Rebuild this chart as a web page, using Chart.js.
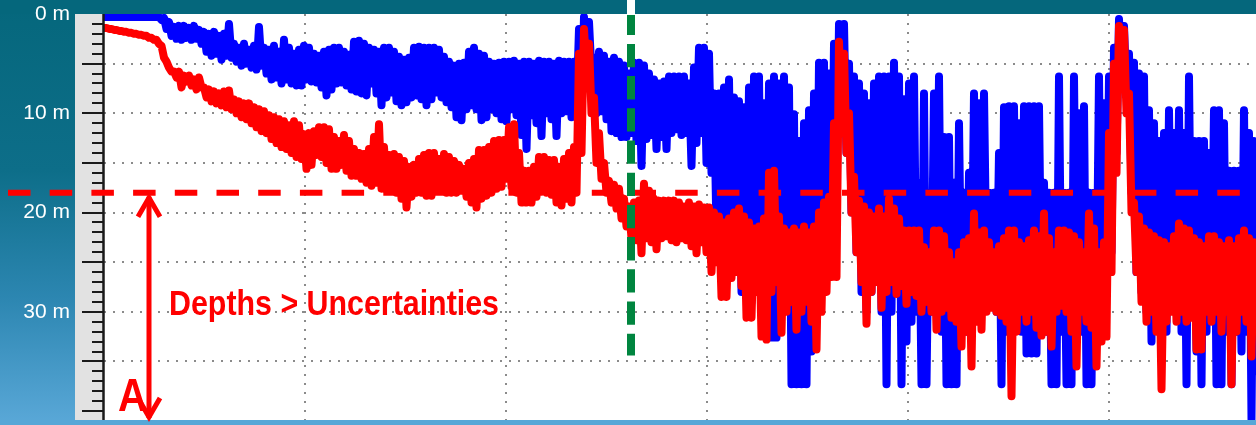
<!doctype html>
<html lang="en">
<head>
  <meta charset="utf-8">
  <title>Depth profile</title>
  <script src="https://cdn.jsdelivr.net/npm/chart.js"></script>
  <style>
    html, body { margin: 0; padding: 0; background: #05677c; }
    #wrap { position: relative; width: 1256px; height: 425px; }
  </style>
</head>
<body>
  <div id="wrap"><canvas id="depthChart"></canvas></div>

  <script>
    // per sample along the track: shallowest and deepest reading (m) of each trace
    var blueTop = [
      0.3,0.3,0.3,0.3,0.3,0.3,0.3,0.3,0.3,0.3,
      0.3,0.3,0.4,0.8,1.3,1.2,1.2,1.4,1.2,1.6,
      1.8,2.0,1.8,2.2,2.0,1.0,3.0,3.4,3.0,3.6,
      3.2,1.3,3.4,3.6,3.2,3.8,2.6,3.4,4.0,3.6,
      3.2,3.4,4.0,4.2,3.8,3.6,3.4,3.4,3.8,4.1,
      2.8,2.7,3.0,3.4,3.6,3.8,3.4,3.4,3.8,4.3,
      4.6,4.4,3.4,3.3,3.4,3.4,3.4,3.6,4.3,4.8,
      5.2,5.0,4.9,3.8,3.4,4.0,4.2,4.8,5.0,4.9,
      4.8,4.8,4.7,5.0,4.8,4.8,5.0,4.7,4.8,4.8,
      5.0,4.7,4.8,4.8,4.8,1.5,0.3,0.8,4.4,3.8,
      4.2,4.8,4.4,4.8,5.2,6.0,4.9,4.9,5.2,6.0,
      6.6,7.0,6.8,6.3,6.3,6.3,6.3,7.0,5.4,3.4,
      3.4,4.0,8.0,8.0,7.4,6.6,8.4,8.8,9.4,7.4,
      6.3,6.3,9.0,7.0,6.3,7.0,6.3,7.4,10.1,12.8,
      11.0,9.7,8.0,4.9,4.9,6.0,3.0,1.0,1.0,5.0,
      6.3,7.0,8.0,9.0,7.0,6.3,6.3,6.3,4.9,6.3,
      8.6,7.0,6.3,17.0,8.0,18.0,8.0,6.3,12.4,12.4,
      17.0,11.0,18.0,16.0,8.0,9.0,8.0,18.0,18.0,14.0,
      9.4,9.3,9.3,11.0,9.3,9.3,9.3,9.3,17.0,18.0,
      18.0,6.3,18.0,18.0,6.3,10.0,9.3,18.0,18.0,6.3,
      9.0,6.3,3.4,0.5,1.2,4.0,4.9,6.0,6.3,9.7,
      11.0,12.8,12.0,9.7,12.0,9.7,12.0,6.3,12.8,12.8,
      12.8,14.0,9.7,9.7,11.0,15.8,15.8,15.8,9.7,12.0,12.8
    ];
    var blueBottom = [
      0.3,0.3,0.3,0.3,0.3,0.3,0.3,0.3,0.3,0.3,
      0.3,0.6,1.5,2.2,2.5,2.6,2.4,2.6,2.5,3.0,
      3.8,4.2,4.0,4.6,4.2,4.4,4.8,5.2,5.0,5.4,
      5.6,5.2,6.0,6.6,6.4,7.0,6.6,7.0,7.2,7.2,
      6.6,6.8,6.9,7.4,8.2,7.6,7.0,6.9,7.2,7.6,
      7.8,8.0,8.2,7.0,8.0,9.2,8.4,7.9,8.8,9.2,
      8.9,8.4,8.2,8.6,9.2,8.6,7.9,8.4,8.9,9.4,
      10.4,10.7,9.6,9.2,9.6,10.7,10.4,9.6,10.0,10.6,
      10.8,9.6,10.2,12.2,13.6,10.2,11.0,12.3,10.0,10.6,
      12.3,10.0,9.8,10.4,9.6,9.8,5.0,6.0,10.0,9.8,
      10.6,11.8,12.0,12.4,12.4,12.0,12.8,15.3,12.6,12.2,
      13.6,12.4,13.6,12.0,11.6,12.2,12.0,15.3,13.0,12.0,
      15.0,16.0,22.0,24.0,26.0,24.0,26.0,28.0,26.0,29.0,
      26.0,28.0,30.0,32.6,32.6,30.0,28.0,37.3,37.3,37.3,
      37.3,34.0,30.0,28.0,26.0,24.0,20.0,12.0,14.0,20.0,
      24.0,28.0,30.0,28.0,26.0,30.0,37.3,30.0,28.0,37.3,
      33.0,31.0,30.0,37.3,37.3,30.0,30.0,32.0,37.3,37.3,
      37.3,30.0,32.0,30.0,28.0,28.0,26.0,28.0,30.0,37.3,
      32.0,30.0,30.0,32.0,34.2,34.2,34.2,30.0,32.0,37.3,
      37.3,32.0,37.3,37.3,30.0,32.0,37.3,37.3,30.0,30.0,
      28.0,24.0,14.0,6.0,8.0,18.0,26.0,28.0,30.0,33.0,
      30.0,30.0,32.0,28.0,30.0,32.0,37.3,30.0,34.0,37.3,
      32.0,30.0,37.3,37.3,32.0,37.3,32.0,34.0,32.0,40.8,36.0
    ];
    var redTop = [
      1.4,1.5,1.6,1.7,1.8,1.9,2.0,2.1,2.2,2.4,
      2.6,3.0,4.4,5.4,5.8,5.8,6.2,6.2,6.6,6.4,
      7.4,7.6,7.8,8.0,7.8,7.7,8.6,8.8,9.0,9.0,
      9.4,9.6,9.8,10.2,10.4,10.6,10.8,11.2,10.8,11.2,
      12.1,12.0,11.8,11.4,11.4,11.6,12.4,12.8,12.2,12.8,
      13.6,14.0,14.1,13.6,12.4,11.1,13.4,14.2,14.1,14.4,
      14.8,15.4,15.2,14.6,14.2,14.0,14.0,14.6,14.1,14.4,
      14.8,15.2,15.6,15.0,14.6,13.7,13.7,13.4,12.8,12.7,
      12.7,11.4,11.1,14.0,15.8,15.8,15.4,14.4,14.4,14.7,
      14.7,15.4,14.6,14.0,13.4,4.0,1.5,3.0,8.4,12.0,
      15.0,16.8,17.2,17.6,18.6,19.4,19.0,18.8,17.1,17.8,
      18.6,18.8,18.8,18.8,18.8,19.0,19.4,19.0,19.4,19.2,
      19.5,19.5,20.0,20.4,21.0,20.6,20.0,19.6,20.4,21.0,
      21.6,21.4,20.6,16.0,15.8,20.4,21.6,22.0,21.6,22.0,
      21.4,22.0,21.4,20.0,19.0,18.4,11.0,2.8,4.0,10.0,
      16.4,18.8,19.4,20.0,20.4,19.6,20.4,18.6,19.6,20.6,
      21.8,21.8,21.8,21.8,23.5,24.0,21.8,21.8,22.4,24.0,
      25.0,24.0,23.0,22.6,20.1,22.0,21.8,23.0,24.0,23.4,
      22.6,21.8,21.8,23.0,23.4,22.8,21.8,22.4,20.1,22.6,
      24.0,21.8,21.8,22.0,22.4,23.0,24.0,20.1,21.6,24.0,
      23.0,12.0,5.0,1.2,1.6,8.0,19.0,20.4,21.6,22.0,
      22.4,22.8,23.0,23.4,22.4,21.1,21.6,21.8,22.6,23.0,
      23.4,22.4,22.4,23.0,23.4,22.8,23.4,22.6,21.8,22.6,23.0
    ];
    var redBottom = [
      1.4,1.5,1.6,1.7,1.8,1.9,2.0,2.1,2.2,2.4,
      2.6,3.2,4.8,5.8,6.4,7.4,6.8,7.2,7.6,7.4,
      8.4,8.8,9.0,9.2,9.4,9.6,10.0,10.4,10.6,11.0,
      11.4,11.8,12.0,12.6,13.0,13.4,13.6,14.0,14.4,14.6,
      15.6,15.2,14.2,14.4,15.0,15.6,15.6,15.2,15.8,16.3,
      16.3,16.6,17.0,17.3,17.0,17.6,17.7,17.7,18.0,18.6,
      19.5,18.4,18.0,18.0,18.3,18.3,17.6,17.8,18.0,18.0,
      18.0,17.8,18.4,19.0,19.5,18.6,18.3,18.0,17.6,17.4,
      16.6,17.4,18.0,19.0,19.0,19.0,18.4,17.9,18.0,18.2,
      19.0,19.3,18.6,19.0,18.0,14.0,6.0,10.0,15.0,16.6,
      18.0,19.0,19.6,20.6,21.4,22.6,22.8,24.1,22.6,23.0,
      23.7,22.6,22.4,22.8,23.0,22.6,22.8,23.4,24.1,23.0,
      24.0,26.0,25.0,28.5,28.5,26.6,26.0,27.4,30.6,30.6,
      28.0,32.5,32.8,28.0,27.0,32.1,30.0,29.0,31.8,30.0,
      29.0,31.0,33.8,30.0,28.0,26.5,26.5,12.0,14.0,20.0,
      24.0,27.0,31.2,28.0,27.0,29.6,28.0,27.0,28.2,27.4,
      29.2,28.0,28.4,30.0,29.0,30.0,31.8,30.0,29.6,30.6,
      31.0,33.5,32.0,35.5,31.0,31.8,30.0,29.6,30.0,30.4,
      31.0,38.5,32.0,30.0,31.0,30.0,31.6,32.4,32.0,33.5,
      30.0,29.4,30.0,32.0,35.5,30.0,31.0,31.6,35.5,33.0,
      32.5,26.0,16.0,6.0,10.0,20.0,26.0,29.0,31.0,30.0,
      32.0,37.8,31.0,30.0,31.0,30.0,31.0,30.6,33.8,33.8,
      30.0,31.0,30.0,32.0,30.0,37.3,32.0,30.0,31.0,34.5,31.0
    ];

    var thresholdDepth = 18.0;   // dashed red line
    var markerSample = 105.4;    // dashed green line
    var markerEndDepth = 34.4;
    var arrowSample = 9;
    var noteText = 'Depths > Uncertainties';
    var cornerText = 'A';

    // each sample gives two points: its shallow reading, then its deep one
    function envelope(top, bottom) {
      var pts = [];
      for (var i = 0; i < top.length; i++) {
        pts.push({ x: i, y: top[i] });
        pts.push({ x: i + 0.5, y: bottom[i] });
      }
      return pts;
    }

    var dotted = 'rgba(110,110,110,0.8)';

    var decor = {
      id: 'decor',
      beforeDraw: function (chart) {
        var ctx = chart.ctx, a = chart.chartArea, W = chart.width, H = chart.height;
        ctx.save();
        var g = ctx.createLinearGradient(0, 0, 0, H);
        g.addColorStop(0, '#05677c');
        g.addColorStop(0.4, '#0d6e89');
        g.addColorStop(0.7, '#2c86b1');
        g.addColorStop(1, '#5aa8d8');
        ctx.fillStyle = g;
        ctx.fillRect(0, 0, W, H);
        ctx.fillStyle = '#05677c';
        ctx.fillRect(0, 0, W, a.top);
        ctx.fillStyle = '#ffffff';
        ctx.fillRect(a.left, a.top, a.right - a.left, a.bottom - a.top);
        ctx.fillStyle = '#e2e2e2';
        ctx.fillRect(a.left - 29, a.top, 29, a.bottom - a.top);
        ctx.fillStyle = '#56a7d7';
        ctx.fillRect(0, a.bottom, W, H - a.bottom);
        ctx.restore();
      },
      afterDatasetsDraw: function (chart) {
        var ctx = chart.ctx, a = chart.chartArea;
        var xs = chart.scales.x, ys = chart.scales.y;
        ctx.save();

        // ruler ticks, one per metre
        ctx.strokeStyle = '#1a1a1a';
        ctx.lineWidth = 2;
        for (var m = 1; m <= 40; m++) {
          var py = Math.round(ys.getPixelForValue(m));
          var len = m % 5 === 0 ? 22 : 12;
          ctx.beginPath();
          ctx.moveTo(a.left - len, py);
          ctx.lineTo(a.left, py);
          ctx.stroke();
        }
        ctx.lineWidth = 2.5;
        ctx.beginPath();
        ctx.moveTo(a.left - 0.5, a.top);
        ctx.lineTo(a.left - 0.5, a.bottom);
        ctx.stroke();

        // threshold line
        var ty = ys.getPixelForValue(thresholdDepth);
        ctx.strokeStyle = '#ff0000';
        ctx.lineWidth = 6;
        ctx.setLineDash([22.5, 19.2]);
        ctx.beginPath();
        ctx.moveTo(8, ty);
        ctx.lineTo(chart.width, ty);
        ctx.stroke();

        // marker line
        var gx = xs.getPixelForValue(markerSample);
        ctx.fillStyle = '#ffffff';
        ctx.fillRect(gx - 4, 0, 8, a.top);
        ctx.strokeStyle = '#00853f';
        ctx.lineWidth = 8;
        ctx.setLineDash([23.3, 8.9]);
        ctx.lineDashOffset = 3.3;
        ctx.beginPath();
        ctx.moveTo(gx, a.top + 1);
        ctx.lineTo(gx, ys.getPixelForValue(markerEndDepth));
        ctx.stroke();
        ctx.setLineDash([]);
        ctx.lineDashOffset = 0;

        // double arrow below the threshold
        var ax = xs.getPixelForValue(arrowSample);
        var top = ty + 4, bot = ys.getPixelForValue(40.7);
        ctx.strokeStyle = '#ff0000';
        ctx.lineWidth = 5;
        ctx.beginPath();
        ctx.moveTo(ax, top);
        ctx.lineTo(ax, bot);
        ctx.stroke();
        ctx.lineJoin = 'miter';
        ctx.beginPath();
        ctx.moveTo(ax - 11, top + 20);
        ctx.lineTo(ax, top + 1);
        ctx.lineTo(ax + 11, top + 20);
        ctx.stroke();
        ctx.beginPath();
        ctx.moveTo(ax - 11, bot - 20);
        ctx.lineTo(ax, bot - 1);
        ctx.lineTo(ax + 11, bot - 20);
        ctx.stroke();

        // annotations
        ctx.fillStyle = '#ff0000';
        ctx.textBaseline = 'alphabetic';
        ctx.textAlign = 'left';
        ctx.font = 'bold 35px "Liberation Sans Narrow", "Liberation Sans", Arial, sans-serif';
        var w = ctx.measureText(noteText).width;
        ctx.save();
        ctx.translate(xs.getPixelForValue(13), ys.getPixelForValue(30.3));
        ctx.scale(330 / w, 1);
        ctx.fillText(noteText, 0, 0);
        ctx.restore();

        ctx.font = 'bold 47px "Liberation Sans", Arial, sans-serif';
        var wa = ctx.measureText(cornerText).width;
        ctx.save();
        ctx.translate(xs.getPixelForValue(2.8), ys.getPixelForValue(40.0));
        ctx.scale(29 / wa, 1);
        ctx.fillText(cornerText, 0, 0);
        ctx.restore();

        ctx.restore();
      }
    };

    var ctx = document.getElementById('depthChart').getContext('2d');
    var chart = new Chart(ctx, {
      type: 'line',
      data: {
        datasets: [{
          label: 'red',
          data: envelope(redTop, redBottom),
          borderColor: '#ff0000',
          borderWidth: 8,
          order: 1
        }, {
          label: 'blue',
          data: envelope(blueTop, blueBottom),
          borderColor: '#0000ff',
          borderWidth: 8,
          order: 2
        }]
      },
      options: {
        responsive: true,
        maintainAspectRatio: false,
        devicePixelRatio: 1,
        animation: false,
        layout: { padding: { top: 14, bottom: 5, left: 0, right: 0 } },
        elements: {
          point: { radius: 0 },
          line: {
            tension: 0,
            fill: false,
            borderJoinStyle: 'round',
            borderCapStyle: 'round'
          }
        },
        datasets: { line: { clip: 0 } },
        plugins: {
          legend: { display: false },
          tooltip: { enabled: false }
        },
        scales: {
          x: {
            type: 'linear',
            min: 0,
            max: 230.4,
            border: { display: false, dash: [2, 7] },
            grid: {
              color: function (c) { return c.tick && c.tick.value === 0 ? 'transparent' : dotted; },
              lineWidth: 2,
              drawTicks: false
            },
            ticks: { display: false, stepSize: 40.2 },
            afterBuildTicks: function (scale) {
              scale.ticks = scale.ticks.filter(function (t) {
                var k = t.value / 40.2;
                return Math.abs(k - Math.round(k)) < 1e-6;
              });
            },
            afterFit: function (scale) {
              scale.height = 0;
              scale.paddingLeft = 0;
              scale.paddingRight = 0;
            }
          },
          y: {
            type: 'linear',
            reverse: true,
            min: 0,
            max: 40.9,
            border: { display: false, dash: [2, 7] },
            grid: {
              color: function (c) { return c.tick && c.tick.value === 0 ? 'transparent' : dotted; },
              lineWidth: 2,
              drawTicks: false
            },
            ticks: {
              stepSize: 5,
              padding: 34,
              color: '#ffffff',
              font: { family: '"Liberation Sans", Arial, sans-serif', size: 21 },
              callback: function (v) { return v % 10 === 0 ? v + ' m' : ''; }
            },
            afterBuildTicks: function (scale) {
              scale.ticks = scale.ticks.filter(function (t) { return t.value % 5 === 0; });
            },
            afterFit: function (scale) {
              scale.width = 104;
              scale.paddingTop = 0;
              scale.paddingBottom = 0;
            }
          }
        }
      },
      plugins: [decor]
    });
  </script>
</body>
</html>
